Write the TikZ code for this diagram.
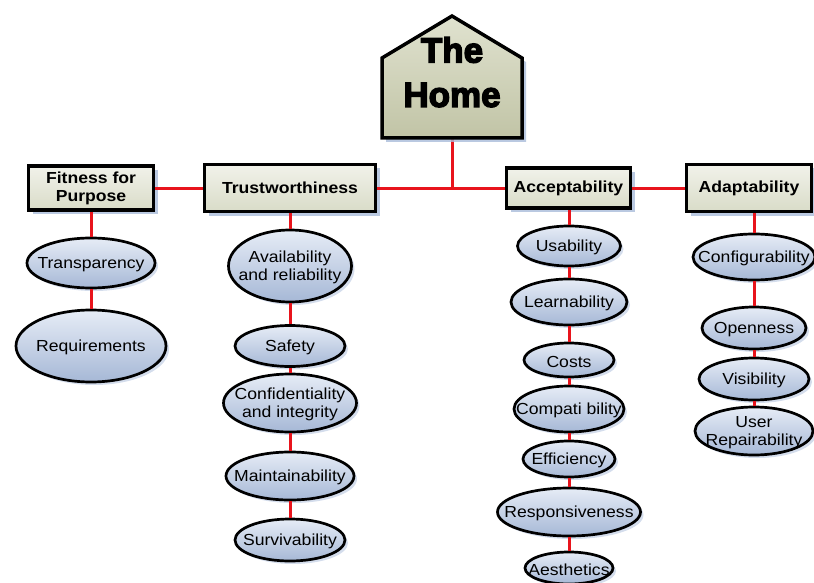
\documentclass[tikz,border=0pt]{standalone}
\usepackage{fontspec}
\setmainfont[FakeStretch=1.1]{Liberation Sans}
\newfontfamily\heavy[BoldFont={Liberation Sans Bold},BoldFeatures={FakeBold=4}]{Liberation Sans}
\usetikzlibrary{shapes.geometric,shadows}
\definecolor{linkred}{HTML}{E8141C}
\definecolor{boxtop}{HTML}{F1F2EA}
\definecolor{boxbot}{HTML}{D9DCC8}
\definecolor{ovtop}{HTML}{E6ECF6}
\definecolor{ovbot}{HTML}{A6B8D6}
\definecolor{housetop}{HTML}{E0E2CF}
\definecolor{housebot}{HTML}{C1C4A6}
\definecolor{shade}{HTML}{A9BBDA}
\begin{document}
\begin{tikzpicture}[x=1pt,y=-1pt,
  sh/.style={drop shadow={fill=shade,opacity=0.8,shadow xshift=4pt,shadow yshift=-4pt}},
  boxn/.style={draw=black,line width=3.5pt,top color=boxtop,bottom color=boxbot,
    font=\bfseries\fontsize{16}{18}\selectfont,align=center,inner sep=0pt,sh},
  ovtext/.style={font=\fontsize{16}{18}\selectfont,align=center,inner sep=0pt,yshift=-1.5pt},
  oval/.style={ellipse,draw=black,line width=2.7pt,top color=ovtop,bottom color=ovbot,
    inner sep=0pt,label={[ovtext]center:{#1}},
    drop shadow={fill=shade,opacity=0.5,shadow xshift=3pt,shadow yshift=-3pt}},
  link/.style={draw=linkred,line width=3pt}]
\useasboundingbox (0,0) rectangle (814,583);

% house
\coordinate (hb) at (452,138);
\coordinate (bus) at (452,188);
\draw[link] (hb) -- (bus);
\draw[line width=3.5pt,line join=miter,top color=housetop,bottom color=housebot,sh]
  (382,138) -- (382,58) -- (452,16) -- (522,58) -- (522,138) -- cycle;
\node[font=\heavy\bfseries\fontsize{35}{40}\selectfont] (the) at (452,50) {The};
\node[font=\heavy\bfseries\fontsize{35}{40}\selectfont] (home) at (452,95) {Home};

% boxes
\node[boxn,minimum width=125,minimum height=44] (fit) at (91,188) {Fitness for\\Purpose};
\node[boxn,minimum width=171,minimum height=47] (trust) at (290,188) {Trustworthiness};
\node[boxn,minimum width=124,minimum height=40] (acc) at (568.5,188) {Acceptability};
\node[boxn,minimum width=125,minimum height=47] (adapt) at (749,188) {Adaptability};

% horizontal links
\draw[link] (fit.east) -- (trust.west);
\draw[link] (trust.east) -- (acc.west);
\draw[link] (acc.east) -- (adapt.west);

% fitness column
\node[oval=Transparency,minimum width=128,minimum height=50] (transp) at (91,263) {};
\node[oval=Requirements,minimum width=150,minimum height=72] (req) at (91,346) {};

% trust column
\node[oval={Availability\\and reliability},minimum width=123,minimum height=72] (avail) at (290,266) {};
\node[oval=Safety,minimum width=110,minimum height=41] (safety) at (290,346) {};
\node[oval={Confidentiality\\and integrity},minimum width=133,minimum height=58] (conf) at (290,403) {};
\node[oval=Maintainability,minimum width=128,minimum height=48] (maint) at (290,476) {};
\node[oval=Survivability,minimum width=110,minimum height=42] (surv) at (290,540) {};

% acceptability column
\node[oval=Usability,minimum width=103,minimum height=40] (usab) at (569,246) {};
\node[oval=Learnability,minimum width=116,minimum height=46] (learn) at (569,302) {};
\node[oval=Costs,minimum width=90,minimum height=34] (costs) at (569,360) {};
\node[oval=Compati bility,minimum width=110,minimum height=46] (compat) at (569,409) {};
\node[oval=Efficiency,minimum width=92,minimum height=36] (effic) at (569,459) {};
\node[oval=Responsiveness,minimum width=143,minimum height=48] (resp) at (569,512) {};
\node[oval=Aesthetics,minimum width=88,minimum height=32] (aest) at (569,568) {};

% adaptability column
\node[oval=Configurability,minimum width=122,minimum height=46] (config) at (754,257) {};
\node[oval=Openness,minimum width=104,minimum height=42] (open) at (754,328) {};
\node[oval=Visibility,minimum width=110,minimum height=42] (visib) at (754,379) {};
\node[oval={User\\Repairability},minimum width=118,minimum height=48] (repair) at (754,431) {};

% vertical links
\draw[link] (fit.south) -- (transp.north);
\draw[link] (transp.south) -- (req.north);
\draw[link] (trust.south) -- (avail.north);
\draw[link] (avail.south) -- (safety.north);
\draw[link] (safety.south) -- (conf.north);
\draw[link] (conf.south) -- (maint.north);
\draw[link] (maint.south) -- (surv.north);
\draw[link] (acc.south -| usab.north) -- (usab.north);
\draw[link] (usab.south) -- (learn.north);
\draw[link] (learn.south) -- (costs.north);
\draw[link] (costs.south) -- (compat.north);
\draw[link] (compat.south) -- (effic.north);
\draw[link] (effic.south) -- (resp.north);
\draw[link] (resp.south) -- (aest.north);
\draw[link] (adapt.south -| config.north) -- (config.north);
\draw[link] (config.south) -- (open.north);
\draw[link] (open.south) -- (visib.north);
\draw[link] (visib.south) -- (repair.north);
\end{tikzpicture}
\end{document}
